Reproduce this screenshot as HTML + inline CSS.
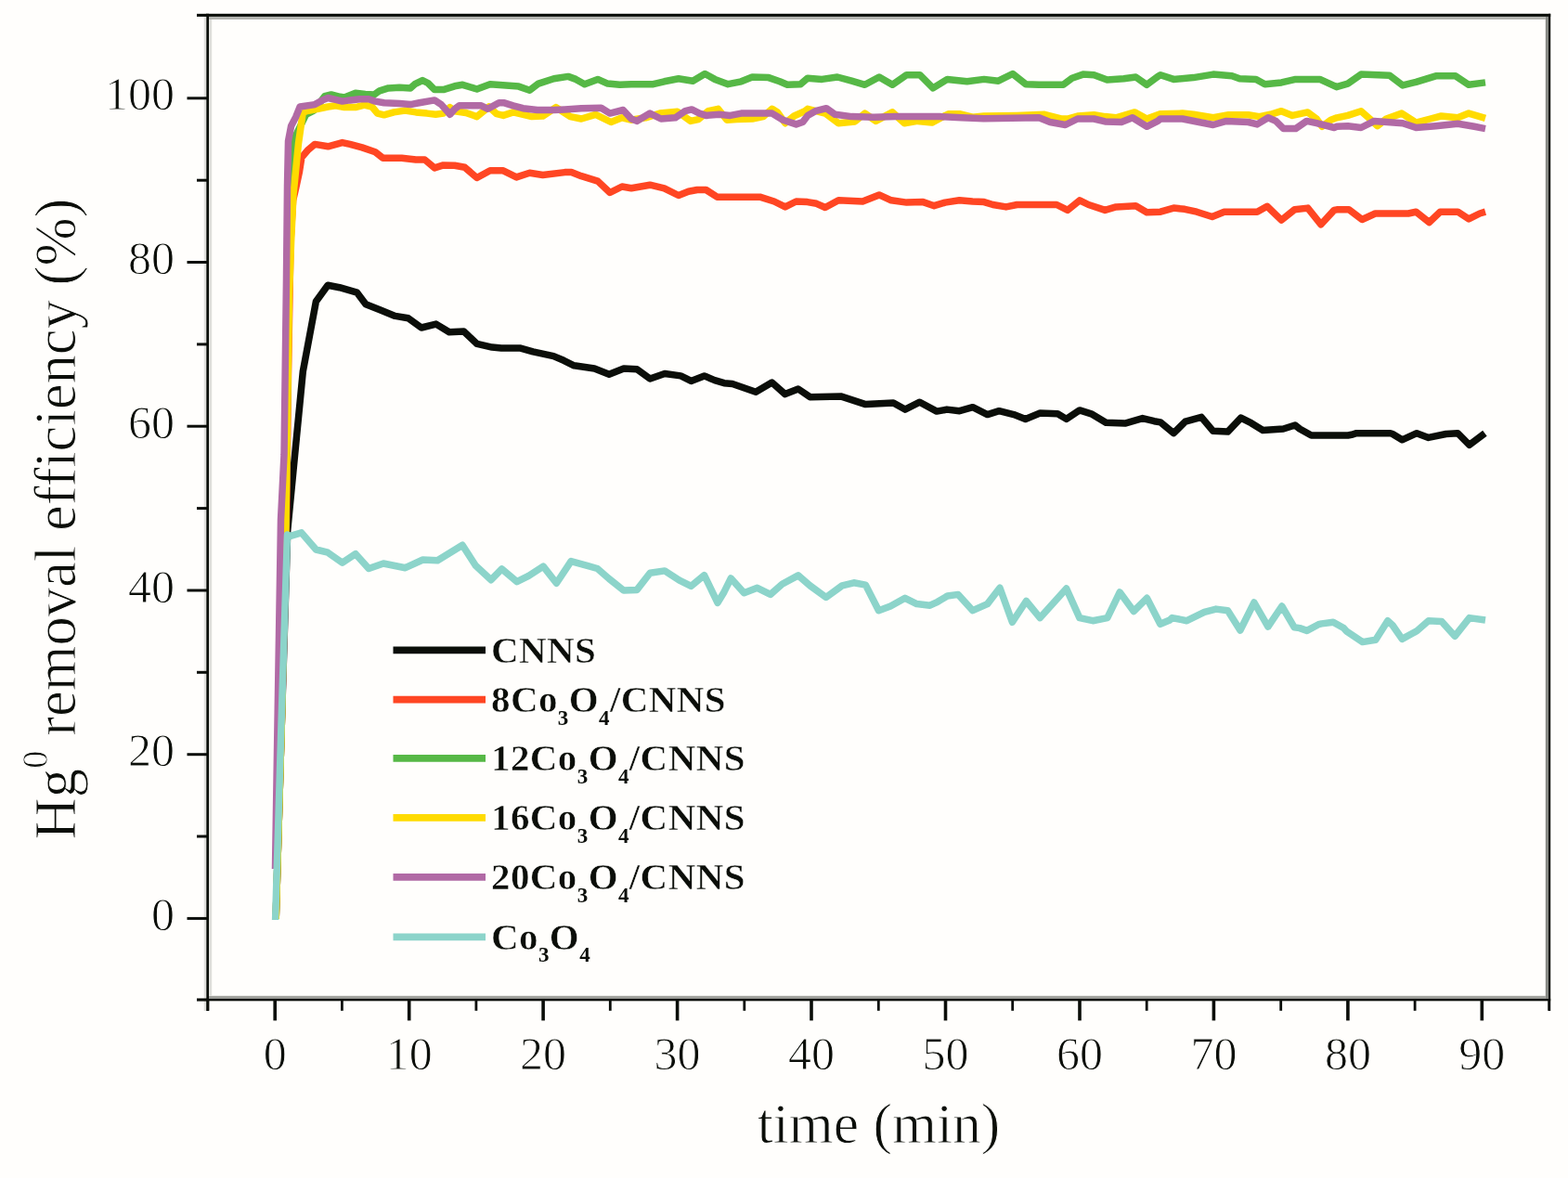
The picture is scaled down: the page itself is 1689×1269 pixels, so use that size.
<!DOCTYPE html>
<html><head><meta charset="utf-8"><style>
html,body{margin:0;padding:0;background:#fffefc;}
svg{display:block;}
text{font-family:"Liberation Serif","Times New Roman",serif;fill:#0b0e09;stroke:#fffefc;stroke-width:0.9px;paint-order:fill;}
.tick text, .ticklab{font-size:50px;}
.sub{font-size:23px;stroke-width:0;}
.leg text{stroke-width:0.5px;letter-spacing:0.4px;}
</style></head><body>
<svg width="1689" height="1269" viewBox="0 0 1689 1269">
<rect width="1689" height="1269" fill="#fffefc"/>
<g fill="none" stroke-width="7.5" stroke-linejoin="round" stroke-linecap="butt">
<path d="M297.2,990.0 L303.3,780.0 L309.7,572.0 L317.6,490.0 L326.3,400.3 L335.7,349.9 L340.4,324.7 L353.1,307.3 L365.7,309.7 L384.6,315.2 L394.0,327.8 L409.8,334.1 L425.6,340.4 L439.7,342.8 L453.9,353.0 L469.7,349.1 L483.9,357.8 L499.6,357.0 L513.8,370.4 L530.0,374.1 L540.0,375.1 L559.9,374.9 L574.1,378.9 L596.2,383.6 L607.2,388.3 L618.3,393.8 L640.3,397.0 L656.1,403.3 L671.9,397.0 L686.1,397.8 L700.2,408.0 L716.0,402.5 L733.3,404.9 L744.4,410.4 L758.6,404.9 L769.8,409.6 L780.0,412.7 L788.9,413.5 L814.1,422.2 L831.5,412.0 L845.7,424.6 L859.8,419.0 L872.5,427.7 L905.6,426.9 L932.4,435.6 L962.3,434.0 L974.9,441.1 L990.7,433.2 L1009.0,443.1 L1020.0,441.1 L1033.6,442.7 L1047.8,438.7 L1063.6,446.6 L1076.2,442.7 L1092.0,446.6 L1104.6,451.4 L1120.3,445.1 L1139.3,445.8 L1148.7,451.4 L1162.9,441.9 L1175.5,445.8 L1191.3,455.3 L1211.8,456.1 L1230.7,450.6 L1243.3,453.7 L1250.0,454.9 L1260.0,463.2 L1264.2,466.7 L1276.8,454.1 L1294.1,449.3 L1306.7,464.3 L1322.5,465.1 L1336.7,450.1 L1347.7,455.7 L1360.3,463.5 L1382.4,462.0 L1395.0,458.0 L1400.0,462.0 L1412.5,469.0 L1452.0,469.0 L1455.8,468.3 L1461.2,466.7 L1497.7,466.7 L1500.0,467.5 L1510.3,473.8 L1526.1,466.7 L1538.7,471.4 L1557.6,467.5 L1570.2,466.7 L1582.8,479.3 L1599.4,466.7" stroke="#0b0e09"/>
<path d="M297.2,990.0 L303.3,780.0 L308.0,600.0 L310.5,400.0 L313.0,260.0 L315.6,215.9 L318.9,201.6 L322.5,185.0 L324.9,169.6 L332.0,161.3 L339.1,155.4 L353.3,157.8 L368.7,153.6 L377.0,155.4 L390.0,158.9 L404.2,163.7 L412.5,170.2 L432.6,170.2 L448.0,172.0 L457.5,172.0 L468.1,180.9 L477.6,177.9 L489.7,178.2 L500.7,180.3 L513.7,191.5 L527.9,183.8 L542.1,183.8 L556.3,190.9 L570.5,186.2 L584.7,188.5 L608.4,185.6 L615.5,185.6 L626.2,189.7 L643.9,195.1 L657.0,207.5 L670.0,201.0 L680.0,202.8 L700.1,199.2 L715.5,202.8 L730.9,210.5 L741.6,206.3 L751.0,204.5 L760.5,204.5 L772.4,212.2 L818.5,212.2 L833.9,217.0 L845.8,222.9 L857.6,217.0 L869.7,217.6 L879.5,219.3 L888.9,223.5 L903.2,215.8 L929.2,217.0 L947.0,209.9 L960.0,215.8 L976.6,218.1 L994.3,217.6 L1006.2,221.7 L1018.0,218.1 L1033.4,215.8 L1047.6,217.0 L1060.0,217.6 L1069.5,220.5 L1083.7,222.9 L1095.5,220.5 L1138.2,220.5 L1150.0,226.4 L1163.0,215.8 L1172.5,220.5 L1190.3,226.4 L1202.1,222.9 L1223.4,221.7 L1235.3,228.8 L1250.0,228.2 L1264.2,224.1 L1276.1,225.3 L1289.1,228.2 L1305.7,233.5 L1318.7,228.2 L1354.2,228.2 L1364.9,222.3 L1380.3,237.1 L1394.5,225.8 L1408.7,224.1 L1422.9,241.8 L1437.1,226.4 L1440.0,225.8 L1453.0,225.8 L1467.2,236.5 L1481.4,230.0 L1517.0,230.0 L1525.3,228.2 L1539.5,239.5 L1551.3,228.2 L1570.3,228.2 L1582.1,235.9 L1593.9,230.0 L1600.0,228.2" stroke="#ff4623"/>
<path d="M297.2,990.0 L303.3,780.0 L308.0,560.0 L311.0,300.0 L314.0,200.0 L316.0,151.4 L329.6,123.3 L337.9,119.1 L349.7,103.7 L356.8,102.0 L366.3,104.3 L371.0,104.9 L382.9,100.2 L393.5,101.4 L403.0,102.0 L408.9,97.8 L418.4,94.9 L430.3,94.3 L442.1,94.9 L446.8,90.7 L455.1,86.6 L461.0,89.5 L468.1,96.6 L477.6,96.6 L489.7,92.8 L498.3,91.3 L513.7,96.0 L527.9,90.7 L558.7,93.1 L570.5,97.2 L580.0,90.1 L596.6,84.8 L612.0,82.4 L620.3,85.4 L629.7,90.7 L643.9,85.4 L654.6,90.1 L667.6,91.3 L680.0,90.7 L703.7,90.7 L715.5,87.8 L730.9,84.8 L746.3,87.2 L759.3,79.5 L770.0,85.4 L784.2,90.7 L798.4,87.8 L810.3,83.0 L828.0,83.6 L839.9,87.8 L848.1,91.3 L862.4,90.7 L870.0,84.2 L885.4,85.4 L902.0,83.0 L917.4,87.2 L931.6,91.3 L947.0,83.0 L961.2,91.3 L976.6,80.7 L990.8,80.7 L1005.0,94.9 L1020.4,85.4 L1041.7,87.8 L1060.0,85.4 L1075.4,87.2 L1090.8,79.5 L1105.0,90.7 L1119.2,91.3 L1145.3,91.3 L1154.7,84.2 L1166.6,80.1 L1178.4,80.7 L1192.6,86.0 L1210.4,84.8 L1223.4,83.0 L1235.3,91.3 L1247.1,82.4 L1250.0,80.7 L1264.2,85.4 L1285.5,83.6 L1306.8,80.1 L1327.0,81.8 L1335.3,84.8 L1353.0,85.4 L1362.5,90.7 L1380.3,88.9 L1395.6,85.4 L1421.7,85.4 L1439.7,93.7 L1451.8,90.1 L1466.1,80.1 L1496.8,81.2 L1511.0,91.9 L1525.3,88.3 L1546.6,81.8 L1567.9,81.8 L1582.1,91.3 L1600.0,88.9" stroke="#56b846"/>
<path d="M297.2,990.0 L303.3,780.0 L308.0,560.0 L311.5,320.0 L313.6,260.0 L316.0,209.7 L321.5,154.6 L326.1,122.1 L329.6,119.7 L345.0,116.7 L353.3,115.0 L361.6,113.8 L371.0,115.6 L382.9,115.6 L392.4,113.2 L400.7,115.0 L406.6,122.1 L413.7,123.8 L424.3,120.9 L436.2,119.1 L448.0,120.9 L459.9,122.1 L469.3,123.3 L477.6,122.1 L484.7,115.6 L490.0,119.7 L501.8,121.5 L513.7,125.6 L526.7,115.0 L535.0,122.7 L542.1,124.4 L552.8,120.9 L563.4,123.3 L572.9,125.6 L584.7,125.0 L598.9,115.6 L614.3,125.6 L626.2,128.0 L641.6,123.3 L658.1,131.5 L670.0,126.8 L679.7,129.2 L695.4,126.8 L710.8,122.1 L729.7,120.3 L743.9,130.4 L752.2,128.6 L762.9,119.7 L773.5,117.3 L783.0,129.2 L793.7,128.6 L810.3,128.0 L822.1,125.6 L831.6,117.3 L837.5,120.9 L845.8,132.7 L855.3,125.0 L867.1,119.7 L870.0,117.3 L888.9,122.1 L903.2,132.7 L920.9,130.9 L931.6,122.1 L943.4,130.4 L961.2,120.9 L974.2,132.7 L988.4,130.4 L1003.8,132.1 L1021.6,122.7 L1033.4,122.7 L1047.6,126.2 L1059.7,125.0 L1095.5,124.4 L1125.1,123.3 L1142.9,128.0 L1150.0,128.0 L1160.7,125.0 L1178.4,123.8 L1190.3,125.6 L1202.1,126.8 L1213.9,123.3 L1222.2,120.9 L1235.3,128.0 L1249.7,122.7 L1273.7,122.1 L1285.5,123.3 L1306.8,126.8 L1323.4,123.8 L1344.7,123.8 L1356.6,125.6 L1368.4,123.3 L1380.3,119.7 L1392.1,124.4 L1408.7,120.9 L1418.1,128.0 L1424.1,136.3 L1433.5,129.2 L1440.0,126.8 L1451.8,124.4 L1466.1,119.7 L1475.5,128.0 L1483.8,135.7 L1493.3,128.0 L1509.9,122.1 L1525.3,132.1 L1540.7,128.0 L1552.5,125.0 L1570.3,126.8 L1582.1,122.1 L1600.0,127.4" stroke="#ffdb00"/>
<path d="M296.5,936.0 L302.5,560.0 L306.0,490.0 L308.5,300.0 L309.5,200.0 L310.5,152.0 L313.6,135.7 L318.7,125.9 L323.1,115.0 L339.1,112.6 L347.4,107.9 L353.3,105.5 L361.6,107.3 L368.7,109.1 L377.0,107.9 L387.6,106.7 L397.1,106.7 L404.2,109.1 L413.7,110.8 L430.3,111.4 L442.1,112.6 L451.6,110.8 L468.1,107.9 L475.3,112.6 L484.7,123.3 L490.0,117.3 L494.7,113.8 L518.4,113.8 L525.5,117.3 L537.4,110.8 L543.3,110.8 L552.8,113.8 L563.4,116.7 L578.8,118.5 L596.6,118.5 L608.4,117.9 L626.2,116.7 L647.5,116.2 L657.0,122.1 L671.2,118.5 L680.0,128.0 L685.9,130.4 L700.1,122.1 L712.0,128.0 L727.4,126.8 L738.0,119.7 L745.1,117.9 L753.4,122.1 L760.5,124.4 L774.7,123.3 L786.6,124.4 L798.4,122.1 L831.6,122.1 L843.4,129.2 L857.6,133.9 L864.7,131.5 L870.0,124.4 L878.3,119.7 L890.1,116.7 L899.6,123.3 L917.4,125.6 L941.0,126.2 L964.7,125.6 L988.4,125.6 L1012.1,125.6 L1035.8,126.8 L1059.7,127.7 L1119.2,126.8 L1131.0,131.5 L1147.6,134.5 L1160.7,128.0 L1178.4,128.0 L1190.3,130.9 L1208.0,131.5 L1219.9,126.8 L1235.3,136.3 L1247.1,130.4 L1250.0,128.0 L1273.7,128.0 L1291.4,131.5 L1306.8,134.5 L1321.0,130.4 L1344.7,131.5 L1354.2,133.9 L1366.0,126.8 L1374.3,130.4 L1382.6,138.6 L1395.6,138.6 L1407.5,130.4 L1418.1,132.7 L1437.1,137.5 L1440.0,136.3 L1451.8,135.7 L1466.1,137.5 L1480.3,130.4 L1511.0,132.7 L1525.3,137.5 L1546.6,135.7 L1570.3,133.3 L1588.0,136.3 L1600.0,138.6" stroke="#b16aa5"/>
<path d="M296.6,991.0 L303.0,780.0 L309.5,576.0 L311.3,577.8 L324.7,573.9 L340.4,592.0 L353.1,595.2 L368.8,606.2 L383.0,596.7 L397.2,612.5 L413.0,607.0 L436.6,611.7 L455.5,603.0 L471.3,603.8 L498.1,587.3 L512.3,609.3 L529.0,624.7 L540.5,612.9 L556.8,626.7 L569.4,620.4 L585.2,610.1 L599.4,628.3 L615.1,604.6 L632.5,609.3 L643.5,612.5 L656.1,623.5 L671.9,636.1 L686.1,635.4 L700.2,617.2 L716.0,614.9 L731.8,625.1 L744.4,631.4 L758.6,619.6 L773.0,649.3 L780.0,637.7 L787.3,623.0 L801.5,638.8 L815.7,633.3 L829.9,640.4 L842.5,629.3 L859.8,619.9 L872.5,630.9 L889.8,643.5 L907.1,630.9 L919.7,627.8 L932.4,630.1 L946.5,657.7 L959.2,653.0 L974.9,644.3 L987.5,650.6 L1001.7,652.2 L1010.0,648.3 L1020.5,642.0 L1032.1,640.4 L1047.8,657.7 L1063.6,650.6 L1077.0,633.3 L1090.4,670.3 L1105.4,647.5 L1120.3,665.6 L1148.7,634.1 L1162.9,665.6 L1177.1,668.7 L1192.8,665.6 L1206.2,638.0 L1221.2,658.5 L1235.4,644.3 L1249.8,672.3 L1260.0,668.0 L1262.6,665.6 L1278.4,668.7 L1297.3,659.3 L1309.9,656.1 L1322.5,657.7 L1335.9,679.0 L1350.9,649.0 L1365.9,675.1 L1380.8,653.0 L1394.2,675.8 L1400.0,676.6 L1407.8,679.4 L1420.2,672.7 L1423.6,671.9 L1436.1,670.3 L1447.3,676.6 L1450.2,679.8 L1467.7,691.6 L1481.8,689.2 L1494.8,668.7 L1500.0,673.5 L1510.3,688.4 L1526.1,679.8 L1538.7,668.7 L1552.9,669.5 L1567.1,685.3 L1582.8,665.6 L1600.0,668.0" stroke="#8cd4ca"/>
</g>
<g stroke="none">
<rect x="225" y="17.9" width="1439.8" height="3.1" fill="#b4b5b0"/>
<rect x="225" y="1072.8" width="1439.8" height="3.0" fill="#a0a19c"/>
<rect x="219.7" y="14.8" width="2.6" height="1074.2" fill="#e0e0dc"/>
<rect x="225" y="21" width="3.2" height="1051.8" fill="#e0e0dc"/>
<rect x="1664.8" y="17.9" width="3.2" height="1057.9" fill="#868883"/>
<rect x="222.3" y="14.8" width="1447.9" height="3.1" fill="#0b0e09"/>
<rect x="222.3" y="1075.8" width="1447.9" height="2.5" fill="#0b0e09"/>
<rect x="222.3" y="14.8" width="2.7" height="1074.2" fill="#0b0e09"/>
<rect x="1668" y="14.8" width="2.2" height="1074.2" fill="#0b0e09"/>
</g>
<g stroke="#0b0e09" stroke-width="2.8">
<line x1="224.0" y1="1077" x2="224.0" y2="1088.8" stroke-width="2.8"/>
<line x1="296.2" y1="1077" x2="296.2" y2="1099.4" stroke-width="3.6"/>
<line x1="368.4" y1="1077" x2="368.4" y2="1088.8" stroke-width="2.8"/>
<line x1="440.7" y1="1077" x2="440.7" y2="1099.4" stroke-width="3.6"/>
<line x1="512.9" y1="1077" x2="512.9" y2="1088.8" stroke-width="2.8"/>
<line x1="585.1" y1="1077" x2="585.1" y2="1099.4" stroke-width="3.6"/>
<line x1="657.3" y1="1077" x2="657.3" y2="1088.8" stroke-width="2.8"/>
<line x1="729.6" y1="1077" x2="729.6" y2="1099.4" stroke-width="3.6"/>
<line x1="801.8" y1="1077" x2="801.8" y2="1088.8" stroke-width="2.8"/>
<line x1="874.0" y1="1077" x2="874.0" y2="1099.4" stroke-width="3.6"/>
<line x1="946.3" y1="1077" x2="946.3" y2="1088.8" stroke-width="2.8"/>
<line x1="1018.5" y1="1077" x2="1018.5" y2="1099.4" stroke-width="3.6"/>
<line x1="1090.7" y1="1077" x2="1090.7" y2="1088.8" stroke-width="2.8"/>
<line x1="1163.0" y1="1077" x2="1163.0" y2="1099.4" stroke-width="3.6"/>
<line x1="1235.2" y1="1077" x2="1235.2" y2="1088.8" stroke-width="2.8"/>
<line x1="1307.4" y1="1077" x2="1307.4" y2="1099.4" stroke-width="3.6"/>
<line x1="1379.7" y1="1077" x2="1379.7" y2="1088.8" stroke-width="2.8"/>
<line x1="1451.9" y1="1077" x2="1451.9" y2="1099.4" stroke-width="3.6"/>
<line x1="1524.1" y1="1077" x2="1524.1" y2="1088.8" stroke-width="2.8"/>
<line x1="1596.3" y1="1077" x2="1596.3" y2="1099.4" stroke-width="3.6"/>
<line x1="1668.6" y1="1077" x2="1668.6" y2="1088.8" stroke-width="2.8"/>
<line x1="223" y1="1077.0" x2="212" y2="1077.0" stroke-width="3.1"/>
<line x1="223" y1="989.4" x2="201.5" y2="989.4" stroke-width="3.0"/>
<line x1="223" y1="901.0" x2="212" y2="901.0" stroke-width="3.0"/>
<line x1="223" y1="812.7" x2="201.5" y2="812.7" stroke-width="3.0"/>
<line x1="223" y1="724.3" x2="212" y2="724.3" stroke-width="3.0"/>
<line x1="223" y1="636.0" x2="201.5" y2="636.0" stroke-width="3.0"/>
<line x1="223" y1="547.6" x2="212" y2="547.6" stroke-width="3.0"/>
<line x1="223" y1="459.2" x2="201.5" y2="459.2" stroke-width="3.0"/>
<line x1="223" y1="370.9" x2="212" y2="370.9" stroke-width="3.0"/>
<line x1="223" y1="282.5" x2="201.5" y2="282.5" stroke-width="3.0"/>
<line x1="223" y1="194.2" x2="212" y2="194.2" stroke-width="3.0"/>
<line x1="223" y1="105.8" x2="201.5" y2="105.8" stroke-width="3.0"/>
<line x1="223" y1="16.4" x2="212" y2="16.4" stroke-width="3.1"/>
</g>
<g class="ticklab" font-size="50" text-anchor="middle">
<text x="296.2" y="1152">0</text>
<text x="440.7" y="1152">10</text>
<text x="585.1" y="1152">20</text>
<text x="729.6" y="1152">30</text>
<text x="874.0" y="1152">40</text>
<text x="1018.5" y="1152">50</text>
<text x="1163.0" y="1152">60</text>
<text x="1307.4" y="1152">70</text>
<text x="1451.9" y="1152">80</text>
<text x="1596.3" y="1152">90</text>
</g>
<g class="ticklab" font-size="50" text-anchor="end">
<text x="188" y="1001.9">0</text>
<text x="188" y="825.2">20</text>
<text x="188" y="648.5">40</text>
<text x="188" y="471.7">60</text>
<text x="188" y="295.0">80</text>
<text x="188" y="118.3">100</text>
</g>
<text x="946.5" y="1231" font-size="61.6" text-anchor="middle">time (min)</text>
<text transform="translate(81,904.5) rotate(-90)" font-size="62.6">Hg<tspan font-size="39" dy="-30">0</tspan><tspan dy="30"> removal efficiency (%)</tspan></text>
<g class="leg" stroke-width="7.8" font-weight="bold" font-size="41">
<line x1="423.5" y1="700.3" x2="523" y2="700.3" stroke="#0b0e09"/>
<text x="529" y="713.6">CNNS</text>
<line x1="423.5" y1="753.7" x2="523" y2="753.7" stroke="#ff4623"/>
<text x="529" y="767.0">8Co<tspan class="sub" dy="13.5">3</tspan><tspan dy="-13.5">O</tspan><tspan class="sub" dy="13.5">4</tspan><tspan dy="-13.5">/CNNS</tspan></text>
<line x1="423.5" y1="816.8" x2="523" y2="816.8" stroke="#56b846"/>
<text x="529" y="830.1">12Co<tspan class="sub" dy="13.5">3</tspan><tspan dy="-13.5">O</tspan><tspan class="sub" dy="13.5">4</tspan><tspan dy="-13.5">/CNNS</tspan></text>
<line x1="423.5" y1="880.8" x2="523" y2="880.8" stroke="#ffdb00"/>
<text x="529" y="894.1">16Co<tspan class="sub" dy="13.5">3</tspan><tspan dy="-13.5">O</tspan><tspan class="sub" dy="13.5">4</tspan><tspan dy="-13.5">/CNNS</tspan></text>
<line x1="423.5" y1="944.9" x2="523" y2="944.9" stroke="#b16aa5"/>
<text x="529" y="958.2">20Co<tspan class="sub" dy="13.5">3</tspan><tspan dy="-13.5">O</tspan><tspan class="sub" dy="13.5">4</tspan><tspan dy="-13.5">/CNNS</tspan></text>
<line x1="423.5" y1="1009.4" x2="523" y2="1009.4" stroke="#8cd4ca"/>
<text x="529" y="1022.7">Co<tspan class="sub" dy="13.5">3</tspan><tspan dy="-13.5">O</tspan><tspan class="sub" dy="13.5">4</tspan></text>
</g>
</svg>
</body></html>
